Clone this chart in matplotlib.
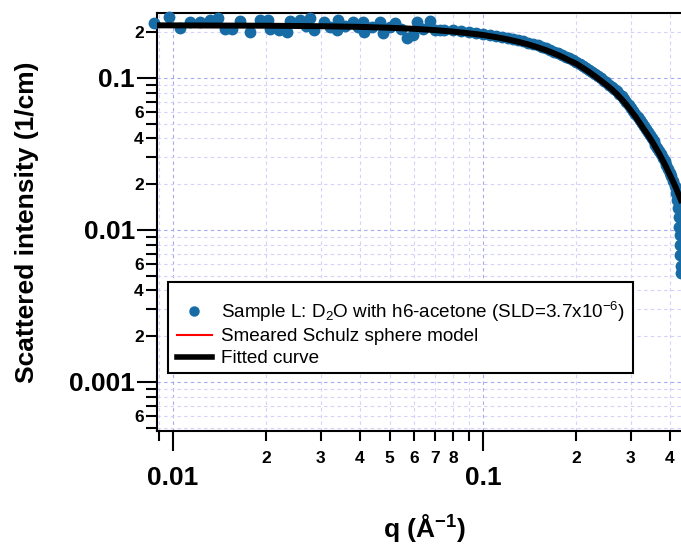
import matplotlib
matplotlib.use('Agg')
import matplotlib.pyplot as plt
from matplotlib.ticker import FixedLocator, FixedFormatter
from matplotlib.lines import Line2D
from matplotlib.patches import Rectangle

plt.rcParams['font.family'] = ['Liberation Sans', 'DejaVu Sans']
plt.rcParams['mathtext.fontset'] = 'custom'
plt.rcParams['mathtext.rm'] = 'Liberation Sans'
plt.rcParams['mathtext.it'] = 'Liberation Sans:italic'
plt.rcParams['mathtext.bf'] = 'Liberation Sans:bold'

# ---- data: measured points (Sample L) ----
q_data = [0.00868, 0.00973, 0.01053, 0.01135, 0.01222, 0.01316, 0.0140, 0.0147, 0.01546, 0.01645,
          0.0177, 0.0191, 0.0203, 0.0205, 0.0219, 0.0233, 0.0238, 0.0257, 0.0268, 0.0277,
          0.0284, 0.0306, 0.0320, 0.0337, 0.0341, 0.0360, 0.0381, 0.0395, 0.0411, 0.0413,
          0.0440, 0.0466, 0.0477, 0.0500, 0.0522, 0.0545, 0.0567, 0.0596, 0.0612, 0.0640,
          0.0674, 0.0700, 0.0727,
          0.075, 0.080, 0.085, 0.090, 0.095, 0.100, 0.105, 0.110, 0.115, 0.120,
          0.125, 0.130, 0.135, 0.140, 0.145, 0.150, 0.155, 0.160, 0.165, 0.170,
          0.175, 0.180, 0.185, 0.190, 0.195, 0.200, 0.205, 0.210, 0.215, 0.220,
          0.225, 0.230, 0.235, 0.240, 0.245, 0.250, 0.255, 0.260, 0.265, 0.270,
          0.275, 0.280, 0.285, 0.290, 0.295, 0.300, 0.305, 0.310, 0.315, 0.320,
          0.325, 0.330, 0.335, 0.340, 0.345, 0.350, 0.355, 0.360, 0.365, 0.370,
          0.375, 0.380, 0.385, 0.390, 0.395, 0.400, 0.405, 0.410, 0.415, 0.420,
          0.423, 0.426, 0.428, 0.430, 0.431, 0.432, 0.433, 0.434, 0.435]
I_data = [0.229, 0.2531, 0.2123, 0.2325, 0.2346, 0.2408, 0.2493, 0.2101, 0.2101, 0.2370,
          0.2016, 0.2408, 0.2408, 0.2101, 0.2069, 0.2016, 0.2370, 0.2408, 0.2200, 0.2471,
          0.2069, 0.2346, 0.2180, 0.2069, 0.2408, 0.2200, 0.2346, 0.2150, 0.2346, 0.2016,
          0.2180, 0.2325, 0.1968, 0.2150, 0.2290, 0.2110, 0.1825, 0.1918, 0.2346, 0.2100,
          0.2370, 0.2070, 0.2060,
          0.208, 0.206, 0.204, 0.200, 0.198, 0.196, 0.193, 0.190, 0.187, 0.184,
          0.181, 0.177, 0.174, 0.171, 0.167, 0.164, 0.160, 0.157, 0.153, 0.149,
          0.146, 0.142, 0.138, 0.135, 0.131, 0.128, 0.124, 0.120, 0.117, 0.113,
          0.110, 0.106, 0.103, 0.0995, 0.0962, 0.0935, 0.0905, 0.0877, 0.0848, 0.0818,
          0.0787, 0.0756, 0.0726, 0.0696, 0.0665, 0.0636, 0.0609, 0.0582, 0.0556, 0.0530,
          0.0506, 0.0483, 0.0462, 0.0442, 0.0422, 0.0403, 0.0384, 0.0365, 0.0348, 0.0331,
          0.0315, 0.0298, 0.0283, 0.0268, 0.0253, 0.0238, 0.0225, 0.0211, 0.0196, 0.0176,
          0.0158, 0.0140, 0.0122, 0.0105, 0.0092, 0.0080, 0.0068, 0.0058, 0.0052]

# ---- fitted curve / smeared model ----
q_fit = [0.0088, 0.02, 0.03, 0.04, 0.05, 0.06, 0.07, 0.08, 0.09, 0.10, 0.11, 0.12, 0.13,
         0.14, 0.15, 0.16, 0.17, 0.18, 0.19, 0.20, 0.21, 0.22, 0.23, 0.24, 0.25, 0.26,
         0.27, 0.28, 0.29, 0.30, 0.31, 0.32, 0.33, 0.34, 0.35, 0.36, 0.37, 0.38, 0.39,
         0.40, 0.41, 0.42, 0.43, 0.44, 0.46]
I_fit = [0.222, 0.2207, 0.2191, 0.2169, 0.2140, 0.2106, 0.2065, 0.2019, 0.1968, 0.1918,
         0.1857, 0.1795, 0.1729, 0.1662, 0.1592, 0.1521, 0.1448, 0.1376, 0.1302, 0.1240,
         0.1164, 0.1094, 0.1025, 0.0960, 0.0900, 0.0843, 0.0785, 0.0725, 0.0667, 0.0610,
         0.0558, 0.0508, 0.0462, 0.0423, 0.0386, 0.0350, 0.0318, 0.0287, 0.0259, 0.0232,
         0.0209, 0.0187, 0.0166, 0.0148, 0.0117]
I_model = I_fit

# ---- ticks ----
x_major = [0.01, 0.1]
x_major_labels = ['0.01', '0.1']
x_minor = [0.009, 0.02, 0.03, 0.04, 0.05, 0.06, 0.07, 0.08, 0.09, 0.2, 0.3, 0.4]
x_minor_labels = ['', '2', '3', '4', '5', '6', '7', '8', '', '2', '3', '4']
y_major = [0.001, 0.01, 0.1]
y_major_labels = ['0.001', '0.01', '0.1']
y_minor = [0.0005, 0.0006, 0.0007, 0.0008, 0.0009,
           0.002, 0.003, 0.004, 0.005, 0.006, 0.007, 0.008, 0.009,
           0.02, 0.03, 0.04, 0.05, 0.06, 0.07, 0.08, 0.09, 0.2]
y_minor_labels = ['', '6', '', '', '',
                  '2', '', '4', '', '6', '', '', '',
                  '2', '', '4', '', '6', '', '', '', '2']

legend_labels = [r'Sample L: D$_{2}$O with h6-acetone (SLD=3.7x10$^{-6}$)',
                 'Smeared Schulz sphere model', 'Fitted curve']

blue = '#176ca5'
W, H = 681, 545
fig = plt.figure(figsize=(W / 100, H / 100), dpi=100)
L, R, T, B = 157, 690, 13, 431
ax = fig.add_axes([L / W, (H - B) / H, (R - L) / W, (B - T) / H])
ax.set_xscale('log')
ax.set_yscale('log')
ax.set_xlim(0.00888, 0.4652)
ax.set_ylim(0.000476, 0.2676)

ax.plot(q_data, I_data, 'o', color=blue, ms=7.5, mec=blue, clip_on=False, zorder=3)
ax.plot(q_fit, I_model, '-', color='red', lw=1.5, zorder=4)
ax.plot(q_fit, I_fit, '-', color='black', lw=4.3, zorder=5, solid_capstyle='butt')

ax.xaxis.set_major_locator(FixedLocator(x_major))
ax.xaxis.set_major_formatter(FixedFormatter(x_major_labels))
ax.xaxis.set_minor_locator(FixedLocator(x_minor))
ax.xaxis.set_minor_formatter(FixedFormatter(x_minor_labels))
ax.yaxis.set_major_locator(FixedLocator(y_major))
ax.yaxis.set_major_formatter(FixedFormatter(y_major_labels))
ax.yaxis.set_minor_locator(FixedLocator(y_minor))
ax.yaxis.set_minor_formatter(FixedFormatter(y_minor_labels))

ax.tick_params(axis='x', which='major', direction='out', length=14.4, width=1.5,
               pad=11, labelsize=19)
ax.tick_params(axis='x', which='minor', direction='out', length=7.5, width=1.5,
               pad=7, labelsize=12.5)
ax.tick_params(axis='y', which='major', direction='out', length=14.4, width=1.5,
               pad=1.5, labelsize=19)
ax.tick_params(axis='y', which='minor', direction='out', length=8, width=1.5,
               pad=1.5, labelsize=12.5)
for lab in ax.get_xticklabels(which='both') + ax.get_yticklabels(which='both'):
    lab.set_fontweight('bold')

ax.grid(which='major', color='#a8a8f0', linestyle=(0, (3, 3)), linewidth=0.8)
ax.grid(which='minor', color='#d2d2fb', linestyle=(0, (3, 3)), linewidth=0.8)
ax.set_axisbelow(True)

for s in ['left', 'bottom', 'top']:
    ax.spines[s].set_linewidth(1.5)
    ax.spines[s].set_color('black')
ax.spines['right'].set_visible(False)

# legend frame (box) and entries
frame = Rectangle((168 / W, 1 - 373 / H), (633 - 168) / W, (373 - 282) / H,
                  transform=fig.transFigure, facecolor='white', edgecolor='black',
                  linewidth=1.5, zorder=9, clip_on=False)
ax.add_patch(frame)
handles = [Line2D([], [], marker='o', ls='none', color=blue, ms=6.5),
           Line2D([], [], color='red', lw=1.5),
           Line2D([], [], color='black', lw=4)]
leg = ax.legend(handles, legend_labels, loc='upper left',
                bbox_to_anchor=(168 / W, 1 - 291 / H), bbox_transform=fig.transFigure,
                borderaxespad=0, frameon=False,
                fontsize=13.6, handlelength=1.9, handletextpad=0.45, borderpad=0.45,
                labelspacing=0.24)
leg.set_zorder(10)

fig.text(27 / W, 1 - 222 / H, 'Scattered intensity (1/cm)', rotation=90,
         ha='center', va='center', fontsize=19, fontweight='bold')
fig.text(424 / W, 1 - 528 / H, r'q (Å$^{\mathbf{-1}}$)', ha='center', va='center',
         fontsize=19, fontweight='bold')

fig.savefig('out.png', dpi=100)
